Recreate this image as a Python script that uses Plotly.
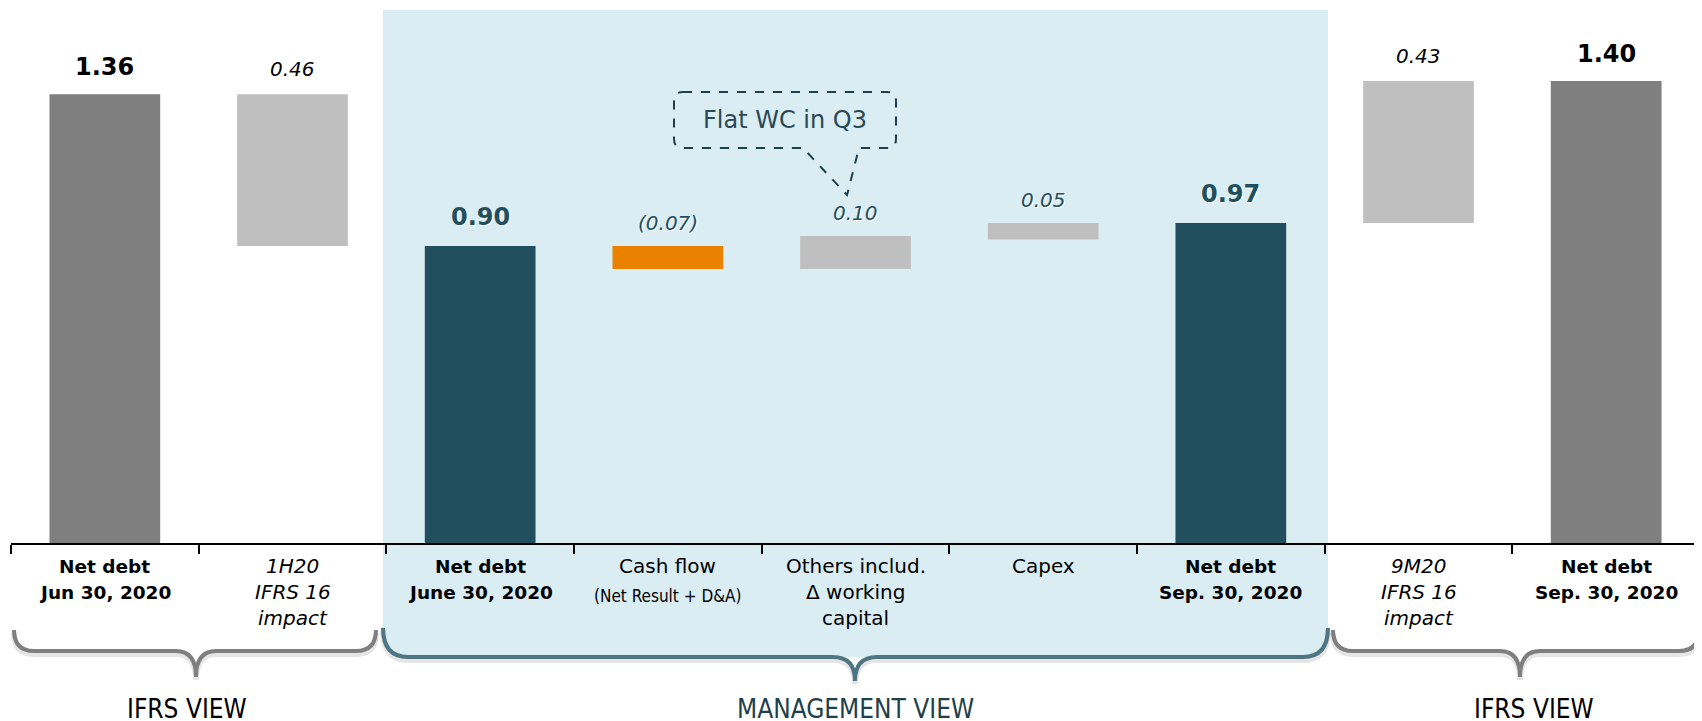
import plotly.graph_objects as go

# ---------------- data ----------------
categories = ["nd_jun_ifrs", "ifrs16_1h20", "nd_jun_mgmt", "cash_flow", "others_wc",
              "capex", "nd_sep_mgmt", "ifrs16_9m20", "nd_sep_ifrs"]
label_lines = [
    ["Net debt", "Jun 30, 2020"],
    ["1H20", "IFRS 16", "impact"],
    ["Net debt", "June 30, 2020"],
    ["Cash flow", "(Net Result + D&A)"],
    ["Others includ.", "Δ working", "capital"],
    ["Capex"],
    ["Net debt", "Sep. 30, 2020"],
    ["9M20", "IFRS 16", "impact"],
    ["Net debt", "Sep. 30, 2020"],
]
bar_base = [0, 0.90, 0, 0.83, 0.83, 0.92, 0, 0.97, 0]
bar_value = [1.36, 0.46, 0.90, 0.07, 0.10, 0.05, 0.97, 0.43, 1.40]
value_labels = ["1.36", "0.46", "0.90", "(0.07)", "0.10", "0.05", "0.97", "0.43", "1.40"]
bar_kind = ["ifrs_total", "ifrs_delta", "mgmt_total", "neg", "delta", "delta",
            "mgmt_total", "ifrs_delta", "ifrs_total"]
group_titles = ["IFRS VIEW", "MANAGEMENT VIEW", "IFRS VIEW"]
callout_text = "Flat WC in Q3"

# ---------------- styles ----------------
TEAL = "#224F5E"
ORANGE = "#EA8200"
DGRAY = "#7F7F7F"
LGRAY = "#BFBFBF"
BLUE_BG = "#DAEDF3"
BRACE_MGMT = "#4E7584"
BRACE_IFRS = "#7F7F7F"
FONT = "DejaVu Sans"
COND = "'DejaVu Sans Condensed', 'Liberation Sans Narrow', 'Liberation Sans'"

color_map = {"ifrs_total": DGRAY, "ifrs_delta": LGRAY, "mgmt_total": TEAL,
             "neg": ORANGE, "delta": LGRAY}
bar_colors = [color_map[k] for k in bar_kind]

W, H = 1702, 721
OFF = 8  # page body margin: screen coords = figure coords + OFF
# plot area in screen pixels
SL, SR, ST, SB = 11, 1700, 48, 543
L, R, T, B = SL - OFF, SR - OFF, ST - OFF, SB - OFF


def px(x):  # screen x -> paper
    return (x - OFF - L) / (R - L)


def py(y):  # screen y -> paper
    return (B - (y - OFF)) / (B - T)


def P(x, y):
    return f"{px(x):.5f},{py(y):.5f}"


fig = go.Figure()
fig.add_trace(go.Bar(
    x=categories, y=bar_value, base=bar_base,
    marker=dict(color=bar_colors, line=dict(width=0)),
    width=0.59, hoverinfo="skip", showlegend=False,
))

shapes = []
# management background
shapes.append(dict(
    type="path", xref="paper", yref="paper", layer="below",
    path=(f"M {P(383,10)} L {P(1328,10)} L {P(1328,632)} Q {P(1328,657)} {P(1303,657)} "
          f"L {P(408,657)} Q {P(383,657)} {P(383,632)} Z"),
    fillcolor=BLUE_BG, line=dict(width=0),
))


def brace(x0, x1, y0, yh, cx, yp, r, n):
    return (f"M {P(x0,y0)} Q {P(x0,yh)} {P(x0+r,yh)} L {P(cx-n,yh)} "
            f"Q {P(cx,yh)} {P(cx,yp)} Q {P(cx,yh)} {P(cx+n,yh)} "
            f"L {P(x1-r,yh)} Q {P(x1,yh)} {P(x1,y0)}")


brace_specs = [
    (14, 376, 630, 651, 196, 677, 20, 20, BRACE_IFRS),
    (383, 1328, 628, 657, 855, 681, 25, 22, BRACE_MGMT),
    (1333, 1699, 630, 651, 1520, 677, 20, 20, BRACE_IFRS),
]
for (x0, x1, y0, yh, cx, yp, r, n, c) in brace_specs:
    shapes.append(dict(type="path", xref="paper", yref="paper",
                       path=brace(x0, x1, y0 + 3, yh + 3, cx, yp + 3, r, n),
                       line=dict(color="rgba(0,0,0,0.10)", width=6)))
    shapes.append(dict(type="path", xref="paper", yref="paper",
                       path=brace(x0, x1, y0, yh, cx, yp, r, n),
                       line=dict(color=c, width=4)))

# callout bubble
shapes.append(dict(
    type="path", xref="paper", yref="paper",
    path=(f"M {P(683,92)} L {P(887,92)} Q {P(896,92)} {P(896,101)} L {P(896,139)} "
          f"Q {P(896,148)} {P(887,148)} L {P(859,148)} L {P(847,195)} L {P(803,148)} "
          f"L {P(683,148)} Q {P(674,148)} {P(674,139)} L {P(674,101)} Q {P(674,92)} {P(683,92)} Z"),
    line=dict(color="#1E3F4C", width=2, dash="dash"),
))

annotations = []
# value labels
for cat, b, v, lab, k in zip(categories, bar_base, bar_value, value_labels, bar_kind):
    top = b + v
    if k == "ifrs_total":
        f = dict(family=FONT, size=24, color="#000000", weight="bold")
        ys = 11
    elif k == "mgmt_total":
        f = dict(family=FONT, size=24, color=TEAL, weight="bold", shadow="1px 1px 0px white")
        ys = 13
    elif k == "ifrs_delta":
        f = dict(family=FONT, size=20, color="#000000", style="italic")
        ys = 11
    else:
        f = dict(family=FONT, size=20, color=TEAL, style="italic", shadow="1px 1px 0px white")
        ys = 9
    annotations.append(dict(x=cat, y=top, xref="x", yref="y", text=lab, showarrow=False,
                            yanchor="bottom", yshift=ys, font=f))

# category labels (one annotation per line)
for cat, lines, k in zip(categories, label_lines, bar_kind):
    for i, line in enumerate(lines):
        yc = 566 + 26 * i
        f = dict(family=FONT, size=20, color="#000000")
        if k in ("ifrs_total", "mgmt_total"):
            f = dict(family=FONT, size=18.5, color="#000000", weight="bold")
        if line.startswith("(Net"):
            f = dict(family=COND, size=17, color="#000000")
            yc = 596
        if k == "ifrs_delta":
            f["style"] = "italic"
        annotations.append(dict(x=cat, y=py(yc), xref="x", yref="paper", text=line,
                                showarrow=False, yanchor="middle", font=f))

# group titles
for t, cx, col in zip(group_titles, [187, 855, 1534], ["#000000", "#1F3F4A", "#000000"]):
    annotations.append(dict(x=px(cx), y=py(709), xref="paper", yref="paper", text=t,
                            showarrow=False, yanchor="middle", xanchor="center",
                            font=dict(family=COND, size=26, color=col)))

annotations.append(dict(x=px(785), y=py(120), xref="paper", yref="paper", text=callout_text,
                        showarrow=False, yanchor="middle",
                        font=dict(family=FONT, size=24, color="#2A4954")))

fig.update_layout(
    width=W, height=H,
    margin=dict(l=L, r=W - R, t=T, b=H - B),
    paper_bgcolor="white", plot_bgcolor="rgba(0,0,0,0)",
    bargap=0.41,
    shapes=shapes, annotations=annotations,
    xaxis=dict(showline=True, linecolor="#000000", linewidth=2, ticks="outside",
               tickson="boundaries", ticklen=9, tickwidth=1.5, tickcolor="#000000",
               showticklabels=False, showgrid=False, zeroline=False, fixedrange=True),
    yaxis=dict(range=[0, 1.5], visible=False, showgrid=False, zeroline=False, fixedrange=True),
)

fig.write_html("out.html")
